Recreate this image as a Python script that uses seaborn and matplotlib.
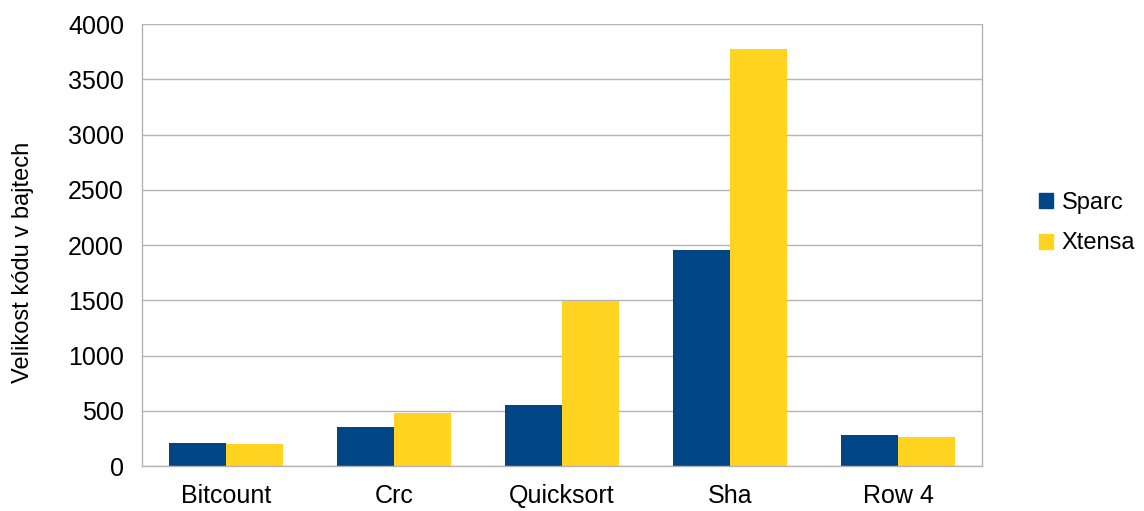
import matplotlib
matplotlib.use("Agg")
import matplotlib.pyplot as plt
import matplotlib.patches as mpatches
import seaborn as sns
import pandas as pd
import numpy as np

# data
categories = ["Bitcount", "Crc", "Quicksort", "Sha", "Row 4"]
sparc = [206, 352, 551, 1951, 278]
xtensa = [197, 479, 1490, 3774, 260]
series_names = ["Sparc", "Xtensa"]
colors = ["#004586", "#ffd320"]

df = pd.DataFrame({
    "kategorie": categories * 2,
    "serie": [series_names[0]] * len(categories) + [series_names[1]] * len(categories),
    "hodnota": sparc + xtensa,
})

sns.set_style("white")
plt.rcParams["font.family"] = ["Liberation Sans", "DejaVu Sans"]
plt.rcParams["text.color"] = "black"
plt.rcParams["xtick.labelcolor"] = "black"
plt.rcParams["ytick.labelcolor"] = "black"

fig = plt.figure(figsize=(11.44, 5.11), dpi=100)
ax = fig.add_axes([142 / 1144, 1 - 466 / 511, 840 / 1144, 442 / 511])

sns.barplot(data=df, x="kategorie", y="hodnota", hue="serie",
            palette=colors, width=0.675, saturation=1, ax=ax,
            legend=False, edgecolor="none", linewidth=0)

ax.set_ylim(0, 4000)
ax.set_xlim(-0.5, len(categories) - 0.5)
ax.set_yticks(np.arange(0, 4001, 500))
ax.yaxis.grid(True, color="#b3b3b3", linewidth=1)
ax.set_axisbelow(True)

# category separators as minor ticks on x axis
ax.set_xticks(np.arange(-0.5, len(categories), 1.0), minor=True)
ax.tick_params(axis="x", which="major", length=0, pad=13, labelsize=18)
ax.tick_params(axis="x", which="minor", length=9, color="#b3b3b3", width=1)
ax.tick_params(axis="y", which="major", length=9, color="#b3b3b3", width=1,
               pad=4, labelsize=18)

for side in ["left", "bottom", "right"]:
    ax.spines[side].set_visible(True)
    ax.spines[side].set_color("#b3b3b3")
    ax.spines[side].set_linewidth(1)
ax.spines["top"].set_visible(False)

ax.set_xlabel("")
ax.set_ylabel("Velikost kódu v bajtech", fontsize=17, color="black")
ax.yaxis.set_label_coords(-0.128, 0.4615)

handles = [mpatches.Patch(color=c, label=n) for c, n in zip(colors, series_names)]
fig.legend(handles=handles, loc="center left", bbox_to_anchor=(1039 / 1144, 1 - 223 / 511),
           frameon=False, fontsize=17, handlelength=0.6, handleheight=0.6,
           handletextpad=0.35, labelspacing=0.8, borderaxespad=0, borderpad=0)

fig.savefig("out.png", dpi=100)
